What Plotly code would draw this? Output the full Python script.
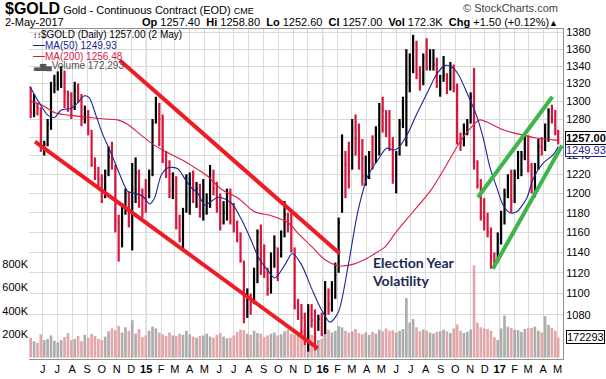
import math
import pandas as pd
import plotly.graph_objects as go

# ---------------- data (weekly bars, week ending Friday) ----------------
week_end = list(pd.date_range("2014-05-09", "2017-04-28", freq="W-FRI").strftime("%Y-%m-%d")) + ["2017-05-02"]

high_2014 = [1316, 1308, 1298, 1293, 1256, 1280, 1322, 1330, 1334, 1340, 1335, 1312,
             1310, 1322, 1320, 1308, 1295, 1290, 1268, 1238, 1228, 1220, 1225, 1250, 1255, 1230,
             1178, 1190, 1205, 1202, 1232, 1238, 1225, 1205]
low_2014 = [1281, 1282, 1284, 1244, 1240, 1250, 1268, 1309, 1312, 1315, 1292, 1288,
            1280, 1290, 1298, 1272, 1275, 1262, 1228, 1214, 1205, 1190, 1195, 1218, 1225, 1160,
            1131, 1145, 1178, 1165, 1142, 1190, 1185, 1175]
close_2014 = [1288, 1294, 1292, 1250, 1252, 1275, 1316, 1318, 1320, 1336, 1310, 1305,
              1295, 1312, 1305, 1280, 1287, 1268, 1230, 1216, 1215, 1192, 1222, 1238, 1232, 1172,
              1169, 1185, 1200, 1175, 1205, 1222, 1196, 1195]

high_2015 = [1215, 1225, 1280, 1305, 1298, 1285, 1245, 1235, 1222, 1218, 1178, 1185, 1220,
             1222, 1224, 1212, 1210, 1215, 1200, 1230, 1225, 1212, 1200, 1192, 1205, 1205,
             1190, 1172, 1160, 1132, 1105, 1100, 1125, 1163, 1168, 1148, 1125, 1140, 1157,
             1145, 1162, 1192, 1180, 1182, 1145, 1095, 1090, 1082, 1090, 1090, 1085, 1080]
low_2015 = [1180, 1195, 1218, 1275, 1250, 1232, 1216, 1195, 1194, 1163, 1150, 1142, 1180,
            1178, 1190, 1185, 1175, 1172, 1178, 1185, 1198, 1180, 1162, 1168, 1172, 1168,
            1160, 1150, 1130, 1072, 1077, 1080, 1090, 1110, 1118, 1115, 1098, 1100, 1125,
            1112, 1135, 1155, 1160, 1140, 1085, 1075, 1062, 1052, 1046, 1068, 1047, 1065]
close_2015 = [1186, 1216, 1276, 1294, 1280, 1235, 1228, 1203, 1213, 1165, 1153, 1182, 1198,
              1210, 1205, 1205, 1178, 1180, 1190, 1225, 1205, 1190, 1170, 1180, 1202, 1172,
              1168, 1160, 1132, 1085, 1095, 1094, 1114, 1160, 1134, 1121, 1104, 1137, 1145,
              1137, 1156, 1178, 1164, 1142, 1088, 1081, 1077, 1056, 1084, 1075, 1065, 1076]

high_2016 = [1082, 1112, 1105, 1112, 1130, 1175, 1263, 1245, 1255, 1280, 1285, 1275, 1258,
             1240, 1245, 1262, 1272, 1298, 1305, 1290, 1290, 1260, 1245, 1280, 1305, 1360,
             1355, 1377, 1370, 1340, 1355, 1373, 1360, 1360, 1350, 1330, 1352, 1332, 1345, 1342,
             1320, 1265, 1275, 1280, 1310, 1338, 1235, 1215, 1195, 1180, 1165, 1140, 1160]
low_2016 = [1060, 1062, 1080, 1083, 1095, 1120, 1180, 1195, 1205, 1225, 1240, 1225, 1208,
            1208, 1215, 1225, 1232, 1240, 1265, 1260, 1245, 1210, 1200, 1240, 1270, 1250,
            1310, 1332, 1325, 1312, 1318, 1335, 1335, 1335, 1315, 1305, 1322, 1308, 1312, 1310,
            1252, 1245, 1250, 1262, 1275, 1225, 1205, 1172, 1162, 1155, 1124, 1125, 1130]
close_2016 = [1062, 1098, 1090, 1097, 1118, 1170, 1240, 1230, 1222, 1270, 1258, 1254, 1218,
              1222, 1240, 1232, 1242, 1292, 1290, 1272, 1252, 1218, 1242, 1275, 1295, 1320,
              1340, 1365, 1330, 1320, 1350, 1338, 1340, 1342, 1322, 1328, 1330, 1310, 1340, 1315,
              1258, 1254, 1268, 1275, 1305, 1228, 1208, 1180, 1175, 1160, 1135, 1132, 1152]

high_2017 = [1182, 1205, 1220, 1225, 1225, 1245, 1245, 1265, 1262, 1232, 1232, 1258, 1260,
             1275, 1292, 1296, 1290, 1268]
low_2017 = [1148, 1168, 1195, 1180, 1190, 1215, 1218, 1235, 1222, 1200, 1196, 1225, 1240,
            1245, 1255, 1275, 1262, 1252]
close_2017 = [1175, 1198, 1205, 1192, 1220, 1235, 1240, 1258, 1228, 1202, 1230, 1250, 1248,
              1255, 1288, 1285, 1268, 1257]

vol_2014 = [170, 140, 125, 200, 150, 160, 190, 145, 130, 150, 175, 210, 150, 160, 185, 140, 195,
            170, 205, 185, 160, 150, 180, 225, 250, 235, 270, 215, 260, 230, 320, 205, 245, 175]
vol_2015 = [190, 230, 265, 250, 215, 200, 185, 215, 190, 185, 205, 195, 230, 200, 180, 170, 185,
            190, 205, 180, 170, 195, 210, 180, 165, 170, 190, 220, 240, 235, 205, 195, 230, 210, 205,
            175, 190, 205, 215, 190, 200, 225, 240, 205, 195, 215, 235, 250, 225, 195, 185, 150]
vol_2016 = [160, 220, 240, 215, 230, 270, 260, 230, 215, 225, 245, 210, 200, 215, 195, 220, 205, 240,
            225, 250, 230, 235, 215, 230, 245, 510, 300, 330, 260, 225, 240, 230, 215, 205, 220,
            225, 240, 225, 210, 250, 285, 230, 210, 220, 240, 790, 300, 260, 250, 245, 230, 175, 150]
vol_2017 = [250, 360, 265, 255, 240, 235, 220, 245, 250, 255, 265, 230, 215, 355, 280, 255, 230, 172.293]

highs = high_2014 + high_2015 + high_2016 + high_2017
lows = low_2014 + low_2015 + low_2016 + low_2017
closes = close_2014 + close_2015 + close_2016 + close_2017
volumes_k = vol_2014 + vol_2015 + vol_2016 + vol_2017
assert len(week_end) == len(highs) == len(lows) == len(closes) == len(volumes_k)

ma50_dates = ["2014-05-05", "2014-05-25", "2014-06-12", "2014-06-26", "2014-07-09", "2014-07-30",
              "2014-08-12", "2014-08-26", "2014-09-05", "2014-09-19", "2014-10-03", "2014-10-20",
              "2014-11-07", "2014-11-24", "2014-12-08", "2014-12-25", "2015-01-08", "2015-01-18",
              "2015-02-01", "2015-02-15", "2015-03-07", "2015-03-21", "2015-04-04", "2015-04-18",
              "2015-05-02", "2015-05-30", "2015-06-26", "2015-07-17", "2015-08-07", "2015-08-21",
              "2015-09-10", "2015-09-24", "2015-10-15", "2015-10-30", "2015-11-18", "2015-12-09",
              "2015-12-29", "2016-01-16", "2016-02-02", "2016-02-23", "2016-03-14", "2016-04-04",
              "2016-04-25", "2016-05-12", "2016-05-26", "2016-06-05", "2016-06-23", "2016-07-13",
              "2016-08-03", "2016-08-24", "2016-09-10", "2016-09-24", "2016-10-07", "2016-10-28",
              "2016-11-14", "2016-11-28", "2016-12-12", "2016-12-26", "2017-01-08", "2017-01-22",
              "2017-02-05", "2017-02-26", "2017-03-11", "2017-04-01", "2017-04-22", "2017-05-02"]
ma50_values = [1317, 1298, 1284, 1282, 1290, 1292, 1298, 1306, 1304, 1284, 1263, 1243,
               1220, 1202, 1200, 1197, 1189, 1195, 1219, 1227, 1226, 1216, 1206, 1200,
               1188, 1196, 1190, 1173, 1151, 1135, 1122, 1115, 1128, 1139, 1128, 1105,
               1085, 1073, 1082, 1128, 1182, 1219, 1236, 1248, 1246, 1248, 1262, 1285,
               1308, 1331, 1341, 1339, 1331, 1306, 1284, 1259, 1227, 1206, 1188, 1180,
               1181, 1195, 1215, 1232, 1241, 1249.93]

ma200_dates = ["2014-05-05", "2014-05-29", "2014-06-26", "2014-07-30", "2014-09-02", "2014-10-07",
               "2014-11-03", "2014-11-24", "2014-12-22", "2015-01-18", "2015-02-15", "2015-03-21",
               "2015-04-18", "2015-05-08", "2015-06-06", "2015-07-10", "2015-08-13", "2015-09-17",
               "2015-10-21", "2015-11-11", "2015-12-09", "2016-01-05", "2016-02-02", "2016-03-01",
               "2016-03-28", "2016-04-25", "2016-05-08", "2016-06-02", "2016-07-06", "2016-08-10",
               "2016-09-13", "2016-10-11", "2016-10-31", "2016-11-21", "2016-12-12", "2017-01-08",
               "2017-02-12", "2017-03-18", "2017-04-22", "2017-05-02"]
ma200_values = [1300, 1296, 1287, 1284, 1282, 1280, 1279, 1274, 1262, 1251, 1243, 1234,
                1225, 1218, 1204, 1195, 1181, 1177, 1170, 1159, 1146, 1133, 1127, 1128,
                1133, 1141, 1145, 1161, 1181, 1202, 1230, 1255, 1269, 1279, 1275, 1268,
                1263, 1259, 1257, 1256.48]

red_upper_dates = ["2014-11-07", "2016-02-05"]
red_upper_values = [1347, 1139]
red_lower_dates = ["2014-05-16", "2015-12-22"]
red_lower_values = [1255, 1049]
green_upper_dates = ["2016-11-17", "2017-04-20"]
green_upper_values = [1196, 1305]
green_lower_dates = ["2016-12-18", "2017-05-10"]
green_lower_values = [1124, 1251]

price_ticks = list(range(1080, 1381, 20))
volume_ticks = [200, 400, 600, 800]
volume_tick_text = ["200K", "400K", "600K", "800K"]
month_ticks = pd.date_range("2014-06-01", "2017-05-01", freq="MS")
month_letters = "JFMAMJJASOND"
month_text = [("<b>%s</b>" % d.strftime("%y")) if d.month == 1 else month_letters[d.month - 1]
              for d in month_ticks]

# ---------------- styles ----------------
FONT = "Liberation Sans, Arial, sans-serif"
UP = "#000000"
DOWN = "#d6163c"
VOL_UP = "#a9a9a9"
VOL_DOWN = "#e2a3a6"
MA50_C = "#1c2591"
MA200_C = "#d81e42"
DAY = 86400000

centers = [pd.Timestamp(d) - pd.Timedelta(days=2) if i < len(week_end) - 1 else pd.Timestamp(d)
           for i, d in enumerate(week_end)]
is_up = [False] + [closes[i] >= closes[i - 1] for i in range(1, len(closes))]

fig = go.Figure()

fig.add_trace(go.Bar(
    x=centers, y=volumes_k, yaxis="y",
    marker=dict(color=[VOL_UP if u else VOL_DOWN for u in is_up], line=dict(width=0)),
    width=5.5 * DAY, opacity=0.95, hoverinfo="skip"))

for flag, col in ((True, UP), (False, DOWN)):
    xs, ys = [], []
    for c, h, l, cl, u in zip(centers, highs, lows, closes, is_up):
        if u != flag:
            continue
        xs += [c, c, None, c, c + pd.Timedelta(days=2), None]
        ys += [l, h, None, cl, cl, None]
    fig.add_trace(go.Scatter(x=xs, y=ys, yaxis="y2", mode="lines",
                             line=dict(color=col, width=2.2), hoverinfo="skip"))

fig.add_trace(go.Scatter(x=ma200_dates, y=ma200_values, yaxis="y2", mode="lines",
                         line=dict(color=MA200_C, width=1.1, shape="spline", smoothing=0.8)))
fig.add_trace(go.Scatter(x=ma50_dates, y=ma50_values, yaxis="y2", mode="lines",
                         line=dict(color=MA50_C, width=1.1, shape="spline", smoothing=0.8)))

for dts, vals, col in ((red_upper_dates, red_upper_values, "#ee1c24"),
                       (red_lower_dates, red_lower_values, "#ee1c24"),
                       (green_upper_dates, green_upper_values, "#3db54a"),
                       (green_lower_dates, green_lower_values, "#3db54a")):
    fig.add_trace(go.Scatter(x=dts, y=vals, yaxis="y2", mode="lines",
                             line=dict(color=col, width=4), cliponaxis=True))

# year separator lines
shapes = []
for yr in ("2015-01-01", "2016-01-01", "2017-01-01"):
    shapes.append(dict(type="line", xref="x", yref="paper", x0=yr, x1=yr, y0=0, y1=1,
                       line=dict(color="#a8a8a8", width=1), layer="below"))

annotations = []
def ann(text, x, y, size=11, color="#000", xanchor="left", **kw):
    d = dict(text=text, x=x, y=y, xref="paper", yref="paper", showarrow=False,
             xanchor=xanchor, yanchor="middle", font=dict(family=FONT, size=size, color=color))
    d.update(kw)
    annotations.append(d)

ann("<span style='font-size:16px'><b>$GOLD</b></span> Gold - Continuous Contract (EOD) "
    "<span style='font-size:9px'>CME</span>", -0.049, 1.062)
ann("2-May-2017", -0.049, 1.022)
ann("<b>Op</b> 1257.40\u00a0 <b>Hi</b> 1258.80\u00a0 <b>Lo</b> 1252.60\u00a0 <b>Cl</b> 1257.00\u00a0 "
    "<b>Vol</b> 172.3K\u00a0 <b>Chg</b> +1.50 (+0.12%)<span style='font-size:9px'>\u25b2</span>",
    0.995, 1.022, xanchor="right")
ann("\u00a9 StockCharts.com", 0.995, 1.064, color="#444", xanchor="right")

ann("<span style='font-size:8px'>\u2195\u2195</span>$GOLD (Daily) 1257.00 (2 May)", 0.004, 0.983, size=10)
ann("<span style='font-size:12px'>\u2014</span>MA(50) 1249.93", 0.004, 0.951, size=10, color=MA50_C)
ann("<span style='font-size:12px'>\u2014</span>MA(200) 1256.48", 0.004, 0.918, size=10, color=MA200_C)
ann("<span style='font-size:8px'>\u2583\u2586\u2584</span>Volume 172,293", 0.004, 0.887, size=10, color="#555")

annotations.append(dict(text="<b>Election Year</b><br><b>Volatility</b>", x="2016-04-07",
                        y=math.log10(1140), xref="x", yref="y2", xanchor="left", yanchor="top",
                        align="left", showarrow=False,
                        font=dict(family="Lato", size=14, color="#1b2a52")))

annotations.append(dict(text="1249.93", x=1, y=math.log10(1249.93), xref="paper", yref="y2",
                        xanchor="left", yanchor="middle", xshift=2, yshift=-4, showarrow=False,
                        font=dict(family=FONT, size=11, color=MA50_C), bgcolor="white",
                        bordercolor=MA50_C, borderwidth=1, borderpad=0))
annotations.append(dict(text="<b>1257.00</b>", x=1, y=math.log10(1257.0), xref="paper", yref="y2",
                        xanchor="left", yanchor="middle", xshift=2, yshift=2, showarrow=False,
                        font=dict(family=FONT, size=11, color="#000"), bgcolor="white",
                        bordercolor="#000", borderwidth=1, borderpad=0))
annotations.append(dict(text="172293", x=1, y=172.293, xref="paper", yref="y",
                        xanchor="left", yanchor="middle", xshift=3, showarrow=False,
                        font=dict(family=FONT, size=11, color="#000"), bgcolor="white",
                        bordercolor="#000", borderwidth=1, borderpad=0))

fig.update_layout(
    width=606, height=379,
    margin=dict(l=29, r=43, t=29, b=20, pad=0),
    paper_bgcolor="white", plot_bgcolor="white",
    showlegend=False,
    font=dict(family=FONT, size=11, color="#000"),
    xaxis=dict(type="date", range=["2014-05-03 12:00", "2017-05-12"], automargin=False,
               tickvals=list(month_ticks), ticktext=month_text, tickangle=0,
               showgrid=True, gridcolor="#dadada", gridwidth=1,
               showline=True, linecolor="#8f8f8f", linewidth=1, mirror=True,
               ticks="", tickfont=dict(family=FONT, size=11, color="#000"), zeroline=False),
    yaxis=dict(range=[-12, 2816], tickvals=volume_ticks, ticktext=volume_tick_text, automargin=False,
               side="left", showgrid=False, zeroline=False, showline=False, ticks="",
               tickfont=dict(family=FONT, size=11, color="#000")),
    yaxis2=dict(overlaying="y", side="right", type="log", automargin=False,
                range=[math.log10(1039.3), math.log10(1384.0)],
                tickvals=price_ticks, ticktext=[str(v) for v in price_ticks],
                showgrid=True, gridcolor="#dadada", gridwidth=1, zeroline=False,
                showline=True, linecolor="#8f8f8f", linewidth=1, ticks="",
                tickfont=dict(family=FONT, size=11, color="#000")),
    shapes=shapes,
    annotations=annotations,
)

fig.write_html("out.html", config={"displayModeBar": False},
               post_script="document.body.style.margin='0px';document.body.style.overflow='hidden';")
